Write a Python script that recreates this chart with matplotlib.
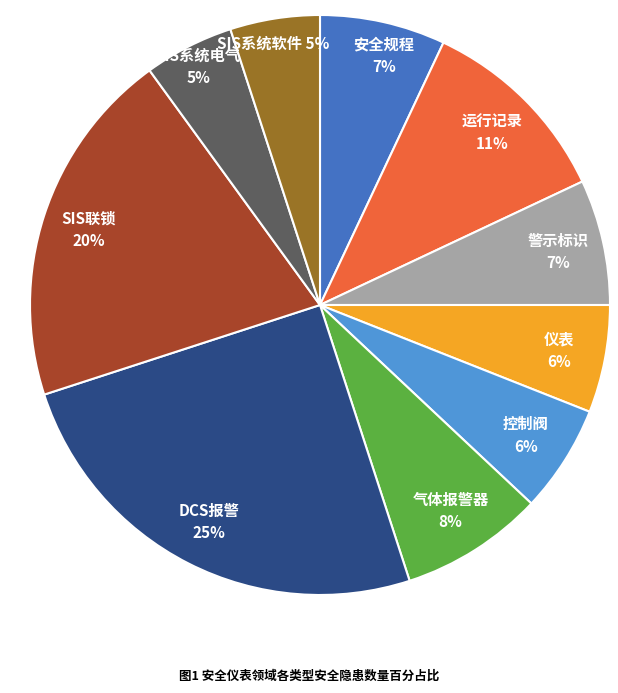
import numpy as np
import matplotlib
matplotlib.use("Agg")
import matplotlib.pyplot as plt

plt.rcParams["font.family"] = ["Noto Sans CJK SC", "DejaVu Sans"]

categories = ["安全规程", "运行记录", "警示标识", "仪表", "控制阀",
              "气体报警器", "DCS报警", "SIS联锁", "SIS系统电气", "SIS系统软件"]
values = [7, 11, 7, 6, 6, 8, 25, 20, 5, 5]
colors = ["#4472C4", "#F0643A", "#A5A5A5", "#F5A623", "#4F96D8",
          "#5BB140", "#2B4A86", "#A8452A", "#5F5F5F", "#9A7426"]

fig = plt.figure(figsize=(6.18, 6.93), dpi=100)
ax = fig.add_axes([30 / 618, (693 - 305 - 292) / 693, 580 / 618, 584 / 693])

wedges, _ = ax.pie(values, colors=colors, startangle=90, counterclock=False,
                   wedgeprops=dict(edgecolor="white", linewidth=1.5))

for w, cat, v in zip(wedges, categories, values):
    ang = np.deg2rad((w.theta1 + w.theta2) / 2)
    r = 0.84
    x, y = r * np.cos(ang), r * np.sin(ang)
    label = f"{cat}\n{v}%"
    if cat == "SIS系统软件":
        # one line, like the reference, to leave room for the neighbours
        x, y = -0.16, 0.90
        label = f"{cat} {v}%"
    elif cat == "安全规程":
        x, y = 0.22, 0.86
    elif cat == "SIS系统电气":
        x, y = -0.42, 0.82
    ax.text(x, y, label, ha="center", va="center", color="white",
            fontsize=11, fontweight="bold", linespacing=1.5)

ax.set_xlim(-1.0, 1.0)
ax.set_ylim(-1.0, 1.0)
ax.set_aspect("equal")
fig.text(0.5, 17 / 693, "图1 安全仪表领域各类型安全隐患数量百分占比",
         ha="center", va="center", fontsize=9, fontweight="bold")

fig.savefig("out.png", dpi=100)
